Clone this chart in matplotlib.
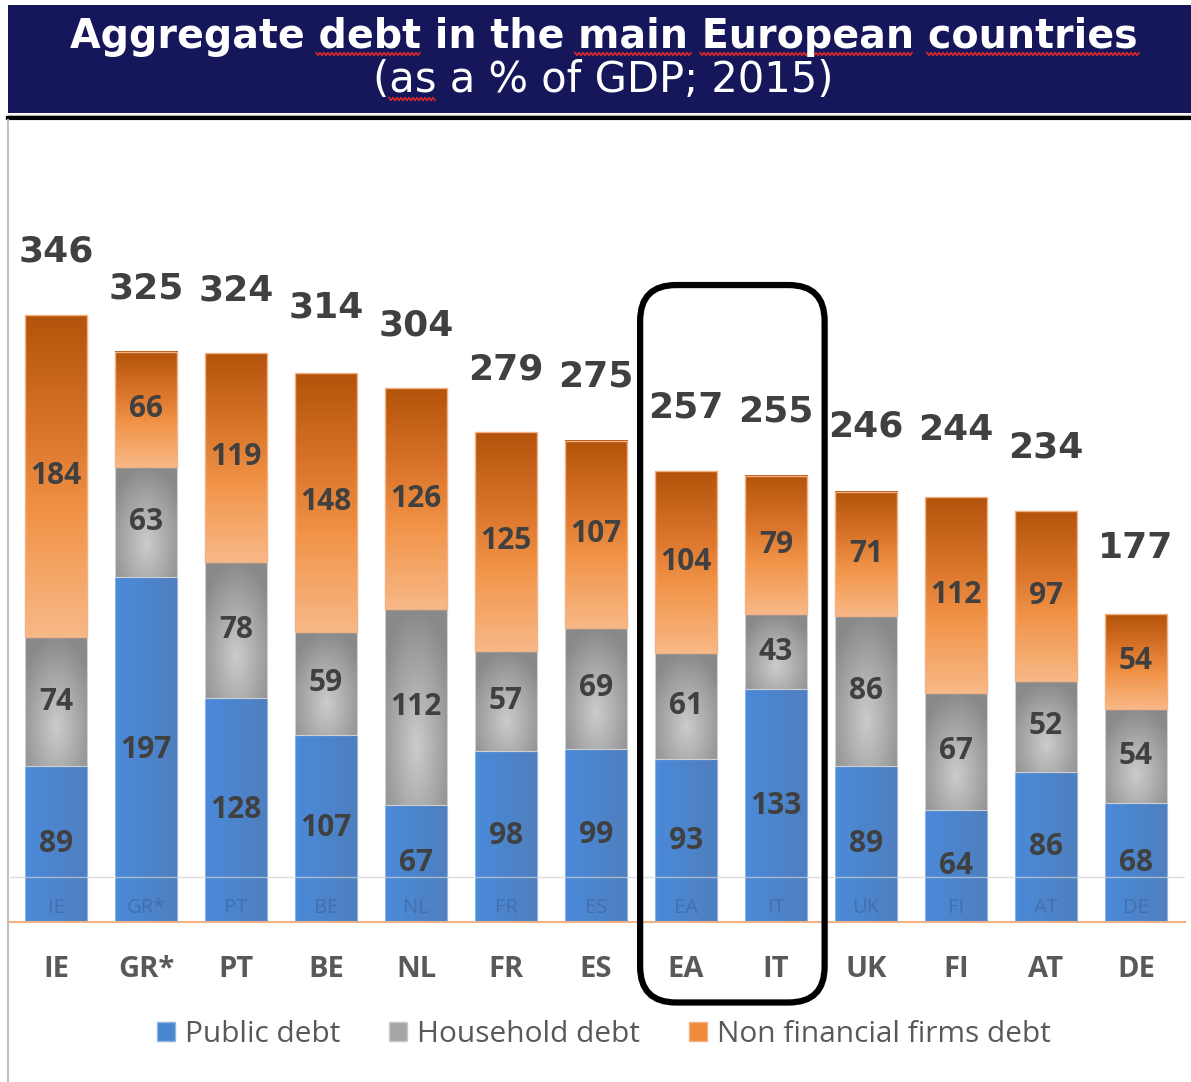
import matplotlib.pyplot as plt
import numpy as np
from matplotlib.colors import LinearSegmentedColormap, to_rgb
from matplotlib.patches import FancyBboxPatch, Rectangle, Patch
from matplotlib.lines import Line2D

countries = ['IE', 'GR*', 'PT', 'BE', 'NL', 'FR', 'ES', 'EA', 'IT', 'UK', 'FI', 'AT', 'DE']
public_debt = [89, 197, 128, 107, 67, 98, 99, 93, 133, 89, 64, 86, 68]
household_debt = [74, 63, 78, 59, 112, 57, 69, 61, 43, 86, 67, 52, 54]
firms_debt = [184, 66, 119, 148, 126, 125, 107, 104, 79, 71, 112, 97, 54]
totals = [346, 325, 324, 314, 304, 279, 275, 257, 255, 246, 244, 234, 177]
series_names = ['Public debt', 'Household debt', 'Non financial firms debt']

W, H = 1191, 1082
LABEL = '#404040'
TICK = '#595959'
BODY_FONT = ['Open Sans', 'DejaVu Sans']

orange_cmap = LinearSegmentedColormap.from_list(
    'orange', [(0.0, '#B4530B'), (0.35, '#D9742A'), (0.62, '#F19347'), (1.0, '#F8B886')])


def orange_img(n=120):
    v = np.linspace(0, 1, n)[:, None]
    return orange_cmap(np.repeat(v, 4, axis=1))[:, :, :3]


def gray_img(n=120, m=40):
    yy = np.linspace(0, 1, n)[:, None]
    xx = np.linspace(-1, 1, m)[None, :]
    dist = np.clip(np.sqrt((xx * 0.75) ** 2 + ((yy - 0.7) / 0.7) ** 2), 0, 1)
    val = 0.80 - 0.26 * dist
    return np.dstack([val, val, val])


def blue_img(m=40):
    c0, c1 = np.array(to_rgb('#4A8ADA')), np.array(to_rgb('#4F7FBE'))
    t = np.linspace(0, 1, m)[None, :, None]
    return np.repeat(c0 + (c1 - c0) * t, 4, axis=0)


def px(xp, yp):
    """pixel position (from top-left) -> figure fraction"""
    return np.asarray(xp) / W, 1 - np.asarray(yp) / H


def squiggle(fig, x0, x1, y):
    xs = np.arange(x0, x1 + 0.1, 2.0)
    ys = y + np.where(np.arange(len(xs)) % 2 == 0, -1.4, 1.4)
    fx, fy = px(xs, ys)
    fig.lines.append(Line2D(fx, fy, transform=fig.transFigure, color='#D42A2A', lw=1.2))


fig = plt.figure(figsize=(W / 100, H / 100), dpi=100)
fig.patch.set_facecolor('white')

# title banner
fig.patches.append(Rectangle((8 / W, 1 - 113 / H), 1 - 8 / W, 108 / H,
                             transform=fig.transFigure, fc='#16165A', ec='none'))
fig.lines.append(Line2D([8 / W, 1], [1 - 114.5 / H] * 2, transform=fig.transFigure,
                        color='#C0C0C0', lw=1))
fig.lines.append(Line2D([8 / W, 1], [1 - 118 / H] * 2, transform=fig.transFigure,
                        color='black', lw=3))
fig.lines.append(Line2D([8 / W] * 2, [0, 1 - 120 / H], transform=fig.transFigure,
                        color='#BFBFBF', lw=1.5))
fig.text(*px(604, 48), 'Aggregate debt in the main European countries',
         ha='center', va='baseline', color='white', fontsize=28.5, fontweight='bold',
         family='DejaVu Sans')
fig.text(*px(603, 92), '(as a % of GDP; 2015)', ha='center', va='baseline',
         color='white', fontsize=30, family='DejaVu Sans')
for a, b, y in ((316, 420, 54), (575, 692, 54), (700, 913, 54), (927, 1140, 54), (389, 436, 99)):
    squiggle(fig, a, b, y)

ax = fig.add_axes([10 / W, 160 / H, 1175 / W, 722 / H])
x = np.arange(len(countries))
width = 0.69

pub = np.array(public_debt)
hh = np.array(household_debt)
nf = np.array(firms_debt)

bars_pub = ax.bar(x, pub, width, fc='none', ec='#8FB4E3', lw=0.8, zorder=3)
bars_hh = ax.bar(x, hh, width, bottom=pub, fc='none', ec='#D0D0D0', lw=0.8, zorder=3)
bars_nf = ax.bar(x, nf, width, bottom=pub + hh, fc='none', ec='#F4B183', lw=1.0, zorder=3)

for bars, img in ((bars_pub, blue_img()), (bars_hh, gray_img()), (bars_nf, orange_img())):
    for b in bars:
        x0, y0 = b.get_x(), b.get_y()
        ax.imshow(img, extent=[x0, x0 + b.get_width(), y0, y0 + b.get_height()],
                  aspect='auto', interpolation='bilinear', zorder=2)

# segment values, totals above the stacks, faint codes at the bar foot
for i in x:
    for val, base in ((pub[i], 0), (hh[i], pub[i]), (nf[i], pub[i] + hh[i])):
        ax.text(i, base + val / 2, str(val), ha='center', va='center', color=LABEL,
                fontsize=21.5, fontweight='bold', family=BODY_FONT, zorder=5)
    ax.text(i, totals[i] + 37, str(totals[i]), ha='center', va='center', color=LABEL,
            fontsize=26, fontweight='bold', family='DejaVu Sans', zorder=5)
    ax.text(i, 8, countries[i], ha='center', va='center', color='#4270AC',
            fontsize=14.5, family=BODY_FONT, zorder=4)

ax.axhline(26, color='#D0D0D0', lw=1, alpha=0.7, zorder=4)

# highlight EA and IT
ax.add_patch(FancyBboxPatch((6.49, -46), 2.05, 410,
                            boxstyle='round,pad=0,rounding_size=0.4',
                            mutation_aspect=90 / 1.75, fc='none', ec='black', lw=4.5,
                            clip_on=False, zorder=6))

ax.set_xlim(-0.511, 12.544)
ax.set_ylim(0, 412.6)
ax.set_xticks(x)
ax.set_xticklabels(countries, fontsize=21, fontweight='bold', family=BODY_FONT, color=TICK)
ax.tick_params(axis='x', length=0, pad=24)
ax.set_yticks([])
for s in ('top', 'left', 'right'):
    ax.spines[s].set_visible(False)
ax.spines['bottom'].set_color('#F4B183')
ax.spines['bottom'].set_linewidth(1.5)
ax.set_facecolor('none')

handles = [Patch(fc='#4A86D0', ec='#8FB4E3'),
           Patch(fc='#A6A6A6', ec='#C8C8C8'),
           Patch(fc='#EE8A3A', ec='#F4B183')]
fig.legend(handles, series_names, loc='center', bbox_to_anchor=px(604, 1035),
           ncol=3, frameon=False, handlelength=0.6, handleheight=0.6,
           handletextpad=0.33, columnspacing=1.65,
           prop={'family': BODY_FONT, 'size': 21.5}, labelcolor=TICK)

fig.savefig('out.png', dpi=100)
